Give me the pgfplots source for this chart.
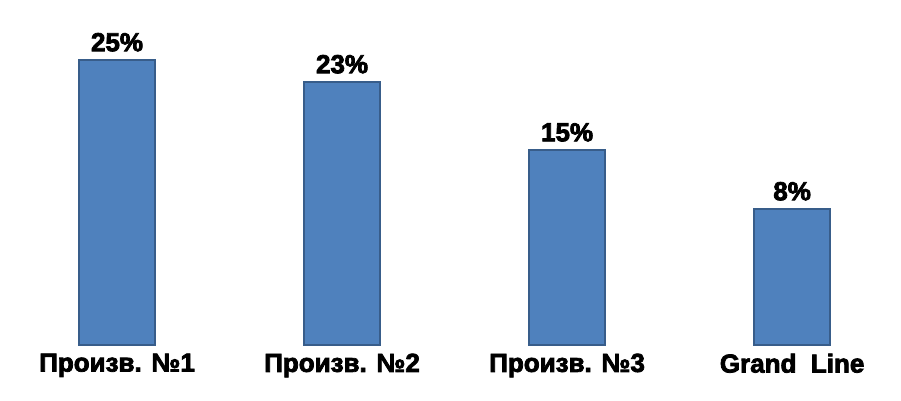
\documentclass[border=0pt]{standalone}
\usepackage{pgfplots}
\pgfplotsset{compat=1.18}
\usepackage{fontspec}
\setmainfont{Liberation Sans}
\newfontfamily\heavy{Liberation Sans Bold}[FakeBold=3]
\definecolor{barfill}{HTML}{4F81BD}
\definecolor{baredge}{HTML}{385D8A}
\begin{document}
\begin{tikzpicture}[x=1pt,y=1pt]
\begin{axis}[
    ybar,
    scale only axis,
    width=675.75pt,
    height=258.75pt,
    bar width=57pt,
    xmin=-0.52, xmax=3.484,
    ymin=0, ymax=30.26,
    axis y line=none,
    axis x line=bottom,
    x axis line style={draw=none},
    xtick=data,
    xticklabels={Произв. №1, Произв. №2, Произв. №3, Grand\ \ Line},
    major tick length=0pt,
    xticklabel style={font=\heavy\fontsize{19.5}{21}\selectfont, anchor=north, yshift=-3pt},
    point meta=explicit symbolic,
    nodes near coords,
    every node near coord/.append style={font=\heavy\fontsize{19.5}{21}\selectfont, anchor=south, yshift=2.5pt},
    clip=false,
]
\addplot[fill=barfill, draw=baredge, line width=1.1pt] table[x=x, y=y, meta=lab] {
x  y      lab
0  25.0   25\%
1  23.07  23\%
2  17.1   15\%
3  11.93  8\%
};
\coordinate (bl) at (rel axis cs:0,0);
\coordinate (tr) at (rel axis cs:1,1);
\end{axis}
\path ([yshift=-41.25pt]bl) (tr);
\end{tikzpicture}
\end{document}
